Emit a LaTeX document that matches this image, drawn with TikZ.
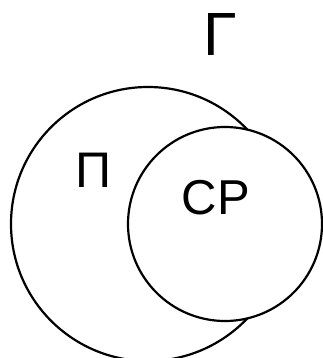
\documentclass[tikz,border=0pt]{standalone}
\usepackage{fontspec}
\setmainfont{Liberation Sans}
\usetikzlibrary{positioning}
\tikzset{
  set/.style   = {circle, draw=black, line width=2.2pt, inner sep=0pt},
  setlab/.style = {inner sep=0pt, text=black},
}
\begin{document}
\begin{tikzpicture}[x=1pt, y=-1pt]
  \useasboundingbox (0,0) rectangle (323,358);
  % Sets
  \node[set, minimum size=274pt] (pi) at (148,224) {};
  \node[set, minimum size=194pt, fill=white] (cp) at (225,224) {};

  % Labels
  \node[setlab, font=\fontsize{61}{61}\selectfont] (gamma) at (220.5,34.5) {Γ};
  \node[setlab, font=\fontsize{50}{50}\selectfont] (pilab) at (94,170) {Π};
  \node[setlab, font=\fontsize{49}{49}\selectfont] (cplab) at (216,197.5) {CP};
\end{tikzpicture}
\end{document}
